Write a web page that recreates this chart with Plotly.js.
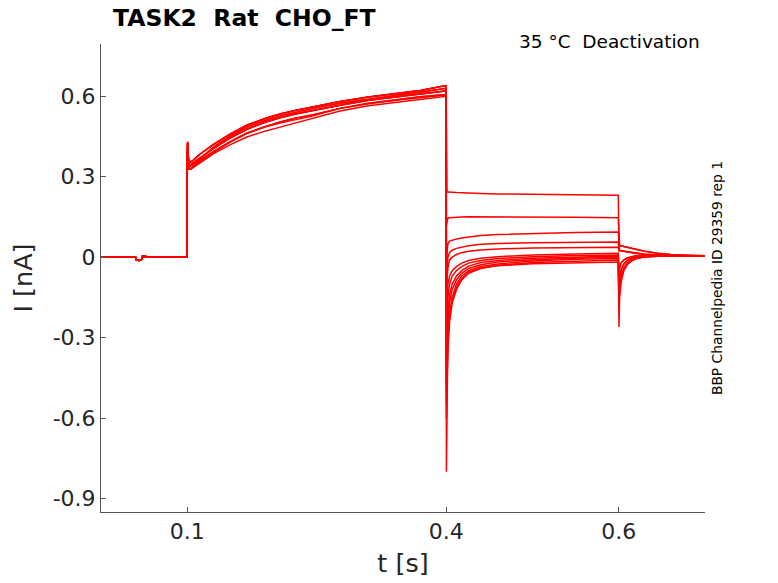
<!DOCTYPE html>
<html>
<head>
<meta charset="utf-8">
<script src="https://cdn.plot.ly/plotly-3.0.1.min.js"></script>
<style>
  body { margin: 0; background: #fff; }
  #plot { width: 778px; height: 583px; }
</style>
</head>
<body>
<div id="plot"></div>
<script>
// TASK2 Rat CHO_FT - deactivation protocol, 12 sweeps
// values (time in s, current in nA)

// baseline before the step
var tPre = [0, 0.02, 0.04, 0.041, 0.044, 0.047, 0.048, 0.06, 0.08, 0.0995];
var yPre = [0, 0.001, 0, -0.01, -0.012, -0.008, 0.003, 0, 0.001, 0];

// activation step 0.1 - 0.4 s
var tAct = [0.1, 0.1004, 0.101, 0.102, 0.104, 0.107, 0.115, 0.13, 0.15, 0.169,
            0.19, 0.2075, 0.225, 0.246, 0.277, 0.31, 0.347, 0.37, 0.3995];
var actA = [0.35, 0.425, 0.37, 0.345, 0.345, 0.352, 0.372, 0.405, 0.445, 0.477,
            0.503, 0.52, 0.534, 0.548, 0.567, 0.585, 0.6, 0.608, 0.62];
var actB = [0.36, 0.43, 0.38, 0.36, 0.355, 0.362, 0.385, 0.42, 0.46, 0.492,
            0.517, 0.534, 0.547, 0.561, 0.581, 0.597, 0.612, 0.622, 0.64];
var actC = [0.33, 0.41, 0.355, 0.33, 0.33, 0.338, 0.358, 0.39, 0.43, 0.462,
            0.487, 0.504, 0.518, 0.531, 0.555, 0.574, 0.59, 0.598, 0.607];
var actD = [0.34, 0.42, 0.365, 0.34, 0.34, 0.347, 0.366, 0.41, 0.452, 0.485,
            0.51, 0.527, 0.541, 0.555, 0.574, 0.59, 0.606, 0.615, 0.63];
var actS = [0.33, 0.4, 0.345, 0.328, 0.328, 0.335, 0.352, 0.385, 0.42, 0.448,
            0.47, 0.485, 0.5, 0.517, 0.545, 0.565, 0.58, 0.59, 0.6];
var actS2 = [0.335, 0.4, 0.35, 0.33, 0.33, 0.338, 0.36, 0.395, 0.432, 0.462,
             0.485, 0.5, 0.513, 0.527, 0.555, 0.572, 0.587, 0.596, 0.605];

// deactivation steps 0.4 - 0.6 s
var tDe = [0.4, 0.4003, 0.401, 0.402, 0.404, 0.407, 0.412, 0.418, 0.426, 0.44, 0.46, 0.5, 0.55, 0.5995];
var de1 = [0.63, 0.245, 0.243, 0.243, 0.242, 0.242, 0.241, 0.24, 0.239, 0.238, 0.236, 0.235, 0.233, 0.231];
var de2 = [0.61, 0.12, 0.14, 0.145, 0.147, 0.148, 0.149, 0.15, 0.151, 0.151, 0.15, 0.15, 0.149, 0.147];
var de3 = [0.62, -0.02, 0.03, 0.05, 0.06, 0.064, 0.068, 0.072, 0.076, 0.081, 0.085, 0.089, 0.092, 0.094];
var de4 = [0.6, -0.12, -0.03, 0, 0.018, 0.026, 0.033, 0.038, 0.043, 0.048, 0.051, 0.054, 0.056, 0.057];
var de5 = [0.62, -0.2, -0.08, -0.04, -0.01, 0, 0.01, 0.017, 0.022, 0.027, 0.031, 0.034, 0.036, 0.037];
var de6 = [0.6, -0.3, -0.16, -0.1, -0.07, -0.05, -0.035, -0.022, -0.012, -0.004, 0.002, 0.008, 0.012, 0.015];
var de7 = [0.61, -0.38, -0.22, -0.15, -0.1, -0.07, -0.05, -0.035, -0.022, -0.012, -0.005, 0.002, 0.006, 0.008];
var de8 = [0.6, -0.45, -0.28, -0.2, -0.14, -0.1, -0.07, -0.05, -0.033, -0.02, -0.012, -0.004, 0.001, 0.004];
var de9 = [0.62, -0.55, -0.33, -0.24, -0.17, -0.12, -0.085, -0.06, -0.042, -0.028, -0.018, -0.009, -0.004, 0];
var de10 = [0.61, -0.8, -0.4, -0.3, -0.21, -0.15, -0.1, -0.07, -0.05, -0.035, -0.025, -0.014, -0.008, -0.005];
var de11 = [0.6, -0.6, -0.47, -0.35, -0.24, -0.17, -0.12, -0.085, -0.06, -0.042, -0.03, -0.02, -0.014, -0.01];
var de12 = [0.63, -0.5, -0.42, -0.32, -0.22, -0.16, -0.11, -0.08, -0.055, -0.04, -0.032, -0.024, -0.02, -0.018];

// tails after 0.6 s
var tTail = [0.6003, 0.601, 0.603, 0.606, 0.61, 0.615, 0.62, 0.63, 0.645, 0.66, 0.68, 0.7];
var tailUp = [0.045, 0.044, 0.042, 0.04, 0.037, 0.033, 0.029, 0.022, 0.015, 0.01, 0.007, 0.005];
var tailMid = [0.025, 0.025, 0.024, 0.022, 0.02, 0.017, 0.014, 0.011, 0.008, 0.006, 0.005, 0.005];
var tailN1 = [-0.06, -0.04, -0.02, -0.01, -0.003, 0.002, 0.005, 0.006, 0.006, 0.005, 0.005, 0.004];
var tailN2 = [-0.12, -0.08, -0.045, -0.025, -0.012, -0.004, 0, 0.004, 0.005, 0.005, 0.005, 0.004];
var tailN3 = [-0.18, -0.12, -0.07, -0.04, -0.022, -0.01, -0.004, 0.002, 0.004, 0.005, 0.005, 0.004];
var tailN4 = [-0.26, -0.15, -0.09, -0.05, -0.028, -0.014, -0.006, 0.001, 0.004, 0.005, 0.005, 0.004];

// which pieces make up each sweep
var sweeps = [
  [actA, de1, tailUp], [actB, de2, tailUp], [actC, de3, tailMid], [actS, de4, tailMid],
  [actD, de5, tailMid], [actB, de6, tailN1], [actC, de7, tailN1], [actS2, de8, tailN2],
  [actA, de9, tailN2], [actB, de10, tailN3], [actD, de11, tailN4], [actA, de12, tailN3]
];

var tAll = tPre.concat(tAct, tDe, tTail);
var data = sweeps.map(function (s) {
  return {
    x: tAll,
    y: yPre.concat(s[0], s[1], s[2]),
    type: 'scatter',
    mode: 'lines',
    line: { color: 'rgb(255,0,0)', width: 1.5 },
    showlegend: false,
    hoverinfo: 'skip'
  };
});

var tickFont = { family: 'DejaVu Sans, sans-serif', size: 22, color: '#262626' };
var labelFont = { family: 'DejaVu Sans, sans-serif', size: 25.5, color: '#262626' };

var layout = {
  width: 778,
  height: 583,
  paper_bgcolor: '#ffffff',
  plot_bgcolor: '#ffffff',
  margin: { l: 101, r: 73, t: 44, b: 71 },
  title: {
    text: '<b>TASK2  Rat  CHO_FT</b>',
    font: { family: 'DejaVu Sans, sans-serif', size: 23.5, color: '#000000' },
    xref: 'paper', x: 0.02, xanchor: 'left',
    yref: 'container', y: 0.97, yanchor: 'middle'
  },
  xaxis: {
    range: [0, 0.7],
    tickvals: [0.1, 0.4, 0.6],
    ticktext: ['0.1', '0.4', '0.6'],
    ticks: 'inside', ticklen: 5, tickcolor: '#555',
    showline: true, linecolor: '#555', linewidth: 1, mirror: false,
    showgrid: false, zeroline: false,
    tickfont: tickFont,
    title: { text: 't [s]', font: labelFont, standoff: 10 }
  },
  yaxis: {
    range: [-0.95, 0.795],
    tickvals: [-0.9, -0.6, -0.3, 0, 0.3, 0.6],
    ticktext: ['-0.9', '-0.6', '-0.3', '0', '0.3', '0.6'],
    ticks: 'inside', ticklen: 5, tickcolor: '#555',
    showline: true, linecolor: '#555', linewidth: 1, mirror: false,
    showgrid: false, zeroline: false,
    tickfont: tickFont,
    title: { text: 'I [nA]', font: labelFont, standoff: 12 }
  },
  annotations: [
    {
      text: '35 °C  Deactivation',
      xref: 'paper', yref: 'paper', x: 0.995, y: 1.006,
      xanchor: 'right', yanchor: 'middle', showarrow: false,
      font: { family: 'DejaVu Sans, sans-serif', size: 18.5, color: '#000000' }
    },
    {
      text: 'BBP Channelpedia ID 29359 rep 1',
      xref: 'paper', yref: 'paper', x: 1.02, y: 0.5,
      xanchor: 'center', yanchor: 'middle', textangle: -90, showarrow: false,
      font: { family: 'DejaVu Sans, sans-serif', size: 13.8, color: '#000000' }
    }
  ]
};

Plotly.newPlot('plot', data, layout, { displayModeBar: false, staticPlot: true });
</script>
</body>
</html>
